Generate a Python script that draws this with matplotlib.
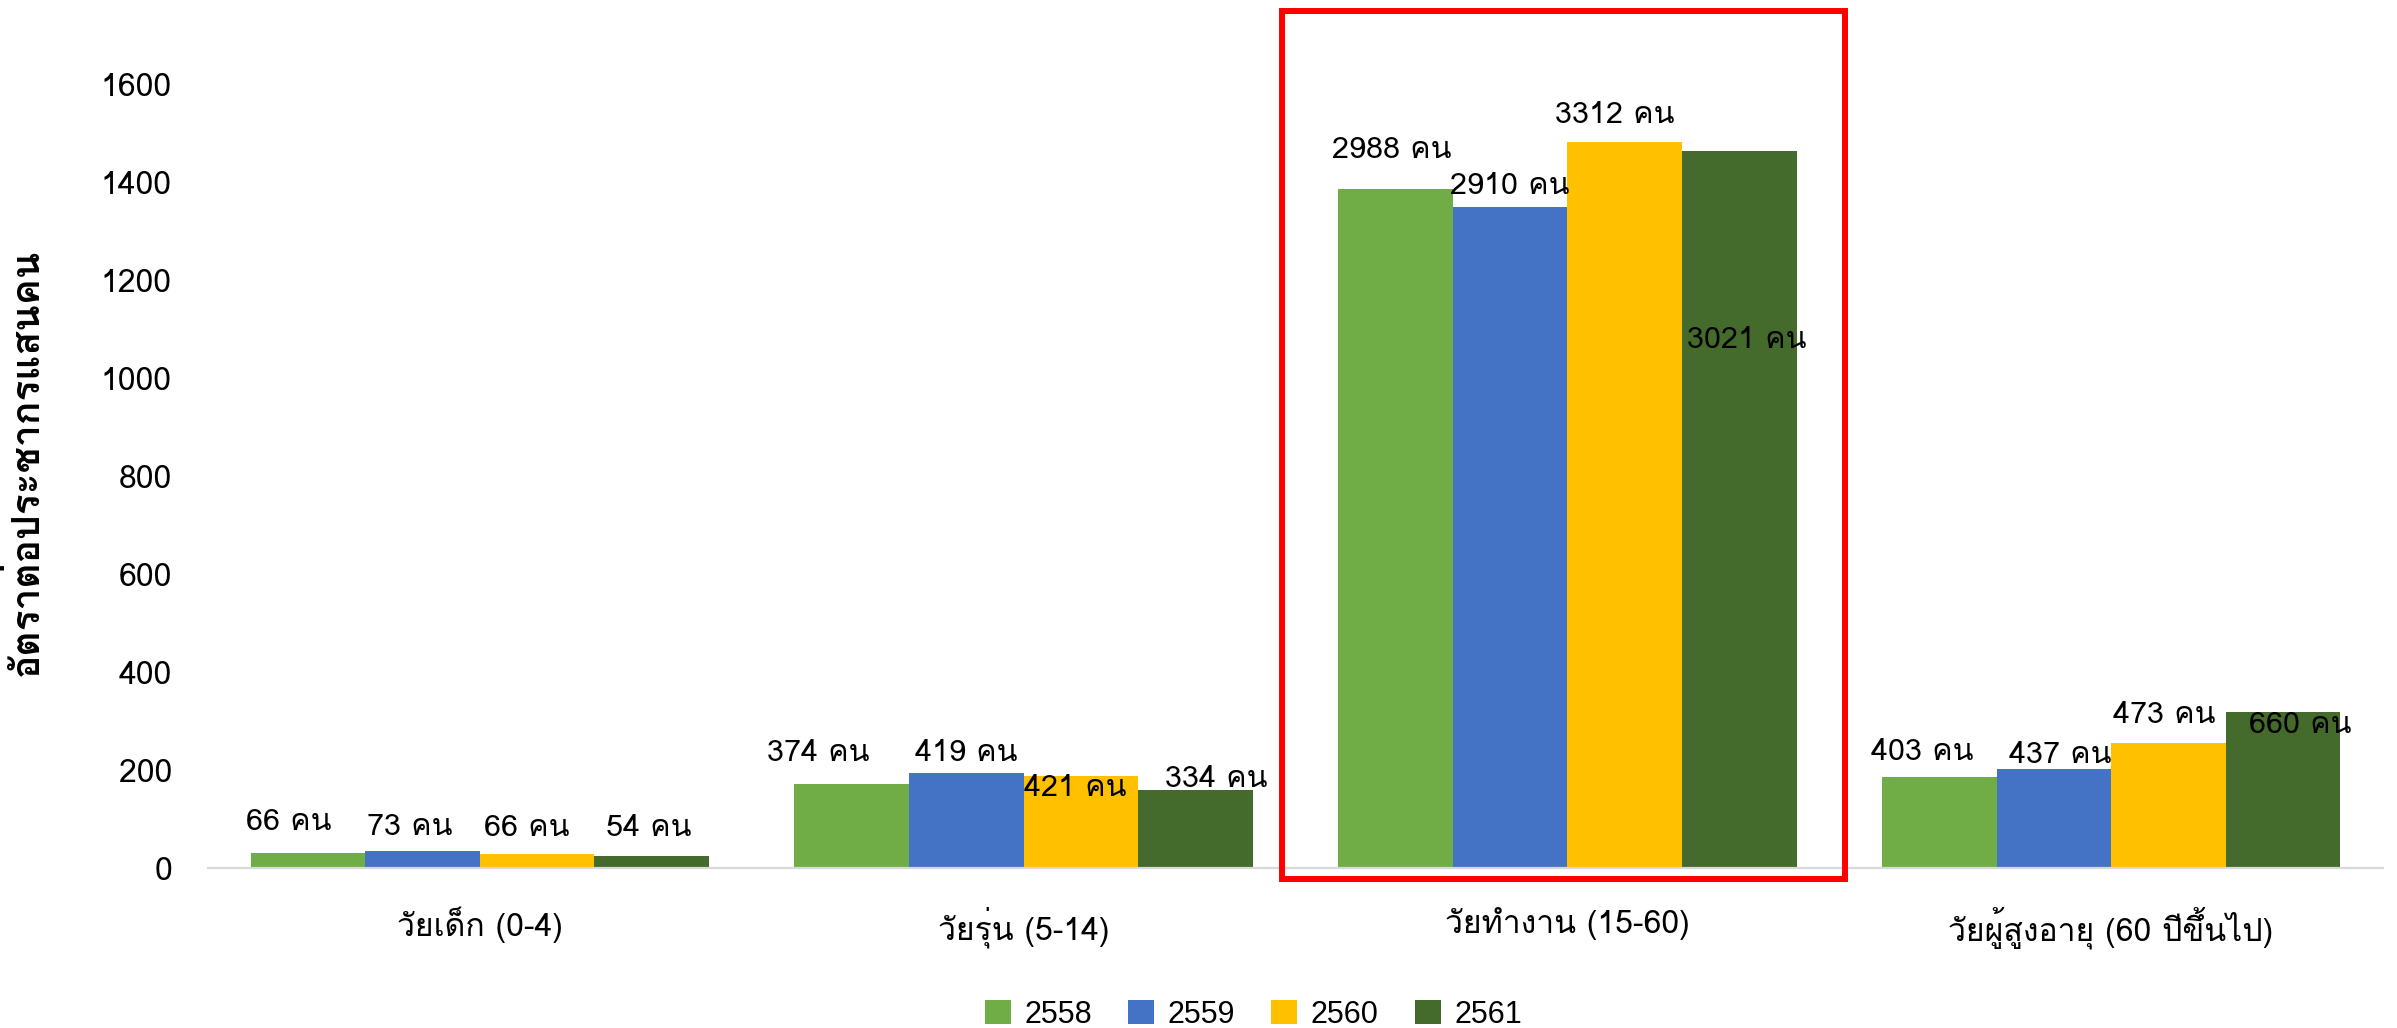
import numpy as np
import matplotlib
matplotlib.use("Agg")
import matplotlib.pyplot as plt
from matplotlib import font_manager as fm
from matplotlib.ft2font import FT2Font
from matplotlib.patches import Patch, Rectangle

# ---------------- data ----------------
categories = ["วัยเด็ก (0-4)", "วัยรุ่น (5-14)", "วัยทำงาน (15-60)", "วัยผู้สูงอายุ (60 ปีขึ้นไป)"]
years = ["2558", "2559", "2560", "2561"]
rate_2558 = [30, 171, 1385, 186]
rate_2559 = [34, 193, 1350, 202]
rate_2560 = [29, 187, 1482, 256]
rate_2561 = [25, 160, 1464, 319]
count_2558 = [66, 374, 2988, 403]
count_2559 = [73, 419, 2910, 437]
count_2560 = [66, 421, 3312, 473]
count_2561 = [54, 334, 3021, 660]
y_ticks = [0, 200, 400, 600, 800, 1000, 1200, 1400, 1600]
y_label = "อัตราต่อประชากรแสนคน"
highlight_index = 2

rates = [rate_2558, rate_2559, rate_2560, rate_2561]
counts = [count_2558, count_2559, count_2560, count_2561]
colors = ["#70AD47", "#4472C4", "#FFC000", "#446A2C"]

# label offsets (pixels: dx right, dy down from bar top)
label_offsets = [
    [(-19, -31), (-34, -31), (-4, -39), (-17, -25)],
    [(-13, -24), (0, -20), (0, -20), (6, -14)],
    [(-10, -26), (-6, 12), (-10, -27), (-4, -28)],
    [(-3, -28), (21, -11), (8, 189), (17, 13)],
]

# ------------- find a Thai font -------------
thai_fonts = set()
for f in fm.fontManager.ttflist:
    try:
        ft = FT2Font(f.fname)
        if 0x0E04 in ft.get_charmap():
            thai_fonts.add(f.name)
    except Exception:
        pass
pref = ["Tahoma", "Leelawadee UI", "Leelawadee", "Loma", "Noto Sans Thai Looped",
        "Sarabun", "IBM Plex Sans Thai Looped", "Noto Sans Thai"]
thai = None
for p in pref:
    if p in thai_fonts:
        thai = p
        break
if thai is None and thai_fonts:
    thai = sorted(thai_fonts)[0]
fam = ([thai] if thai else []) + ["DejaVu Sans"]
plt.rcParams["font.family"] = fam

fig = plt.figure(figsize=(23.97, 10.28), dpi=100)
ax = fig.add_axes([208 / 2397, 160 / 1028, (2383 - 208) / 2397, (868 - 84) / 1028])

x = np.arange(len(categories))
w = 0.2107
for i, (yr, vals, col) in enumerate(zip(years, rates, colors)):
    xs = x + (i - 1.5) * w
    ax.bar(xs, vals, width=w, color=col, label=yr, zorder=2)
    for j, (xx, v) in enumerate(zip(xs, vals)):
        dx, dy = label_offsets[i][j]
        ax.annotate(f"{counts[i][j]} คน", xy=(xx, v), xytext=(dx, -dy),
                    textcoords="offset pixels", ha="center", va="center",
                    fontsize=22, color="black", zorder=5)

ax.set_xlim(-0.5, len(categories) - 0.5)
ax.set_ylim(0, 1600)
ax.set_yticks(y_ticks)
ax.set_yticklabels([str(t) for t in y_ticks], fontsize=23)
ax.set_xticks(x)
ax.set_xticklabels(categories, fontsize=23)
ax.tick_params(axis="both", length=0)
ax.tick_params(axis="y", pad=26)
ax.tick_params(axis="x", pad=28)
for s in ["top", "right", "left"]:
    ax.spines[s].set_visible(False)
ax.spines["bottom"].set_color("#D9D9D9")
ax.spines["bottom"].set_linewidth(1.6)
ax.set_ylabel(y_label, fontsize=28, fontweight="bold")
ax.yaxis.set_label_coords(-0.0745, 0.518)

# highlight box around the working-age group
hx0 = highlight_index - 0.524
hx1 = highlight_index + 0.51
rect = Rectangle((hx0, -22), hx1 - hx0, 1750 + 22, fill=False, edgecolor="#FF0000",
                 linewidth=4.3, clip_on=False, zorder=6)
ax.add_patch(rect)

handles = [Patch(facecolor=c, edgecolor="none", label=y) for c, y in zip(colors, years)]
fig.legend(handles=handles, loc="center", bbox_to_anchor=(0.523, 0.013), ncol=4,
           frameon=False, prop={"family": ["Liberation Sans", "DejaVu Sans"], "size": 22},
           handlelength=0.85, handleheight=0.85, handletextpad=0.44, columnspacing=1.18)

fig.savefig("out.png", dpi=100)
